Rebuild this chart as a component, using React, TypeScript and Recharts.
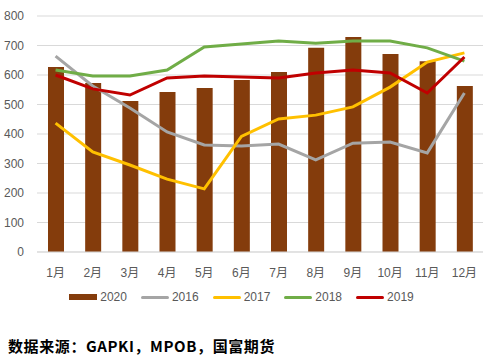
import React from "react";
import {
  ComposedChart,
  Bar,
  Line,
  XAxis,
  YAxis,
  CartesianGrid,
  Legend,
} from "recharts";

const months = ["1月", "2月", "3月", "4月", "5月", "6月", "7月", "8月", "9月", "10月", "11月", "12月"];
const y2020 = [627, 573, 512, 542, 556, 583, 610, 692, 729, 671, 647, 563];
const y2016 = [664, 563, 488, 407, 363, 359, 366, 312, 369, 373, 336, 539];
const y2017 = [437, 339, 295, 247, 214, 392, 451, 464, 492, 559, 644, 675];
const y2018 = [617, 597, 597, 617, 695, 705, 715, 708, 715, 715, 692, 647];
const y2019 = [600, 553, 532, 590, 597, 593, 590, 607, 617, 607, 539, 661];
const yTicks = [0, 100, 200, 300, 400, 500, 600, 700, 800];

const series = [
  { key: "2020", color: "#843C0C", bar: true },
  { key: "2016", color: "#A5A5A5", bar: false },
  { key: "2017", color: "#FFC000", bar: false },
  { key: "2018", color: "#70AD47", bar: false },
  { key: "2019", color: "#C00000", bar: false },
];

const data = months.map((m, i) => ({
  month: m,
  "2020": y2020[i],
  "2016": y2016[i],
  "2017": y2017[i],
  "2018": y2018[i],
  "2019": y2019[i],
}));

const font = "'Liberation Sans', Arial, 'Noto Sans CJK SC', sans-serif";

const LegendRow = () => (
  <div
    style={{
      display: "flex",
      justifyContent: "center",
      alignItems: "center",
      gap: 14,
      height: 20,
      fontFamily: font,
      fontSize: 12,
      color: "#595959",
    }}
  >
    {series.map((s) => (
      <div key={s.key} style={{ display: "flex", alignItems: "center" }}>
        <div
          style={{
            width: 28,
            height: s.bar ? 6 : 3,
            background: s.color,
            borderRadius: s.bar ? 0 : 2,
            marginRight: 3,
          }}
        />
        <span>{s.key}</span>
      </div>
    ))}
  </div>
);

const App = () => {
  return (
    <div style={{ position: "absolute", left: 0, top: 0, width: 491, height: 362, background: "#fff" }}>
      <ComposedChart
        width={491}
        height={307}
        data={data}
        margin={{ top: 16, right: 8, left: 0, bottom: 0 }}
      >
        <CartesianGrid vertical={false} stroke="#D9D9D9" />
        <XAxis
          dataKey="month"
          axisLine={{ stroke: "#D9D9D9" }}
          tickLine={false}
          height={35}
          tickMargin={10}
          tick={{ fill: "#595959", fontSize: 12, fontFamily: font }}
        />
        <YAxis
          width={37}
          domain={[0, 800]}
          ticks={yTicks}
          axisLine={false}
          tickLine={false}
          tickMargin={7}
          tick={{ fill: "#595959", fontSize: 12, fontFamily: font }}
        />
        <Legend verticalAlign="bottom" content={() => <LegendRow />} />
        <Bar dataKey="2020" fill="#843C0C" barSize={16} isAnimationActive={false} />
        {series
          .filter((s) => !s.bar)
          .map((s) => (
            <Line
              key={s.key}
              dataKey={s.key}
              stroke={s.color}
              strokeWidth={3}
              dot={false}
              type="linear"
              isAnimationActive={false}
            />
          ))}
      </ComposedChart>
      <div
        style={{
          position: "absolute",
          left: 8,
          top: 335,
          fontFamily: "'Noto Sans CJK SC', sans-serif",
          fontWeight: 700,
          fontSize: 15,
          letterSpacing: 0.6,
          color: "#000",
          whiteSpace: "nowrap",
        }}
      >
        数据来源：GAPKI，MPOB，国富期货
      </div>
    </div>
  );
};

export default App;
